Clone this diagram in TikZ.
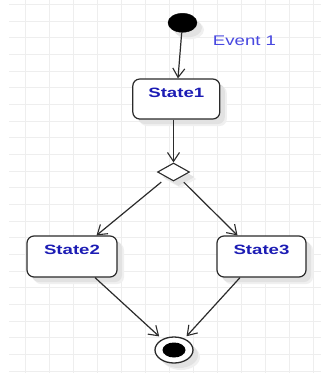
\documentclass[tikz,border=0pt]{standalone}
\usepackage{fontspec}
\setmainfont{Liberation Sans}
\usetikzlibrary{shapes.geometric,arrows.meta,shadows,calc}

\definecolor{gridgray}{HTML}{EEEEEE}
\definecolor{linegray}{HTML}{2B2B2B}
\definecolor{statetext}{HTML}{1C1CB4}
\definecolor{eventtext}{HTML}{4848E0}
\definecolor{shadowgray}{HTML}{E2E2E2}
\definecolor{shadowhaze}{HTML}{F0F0F0}

\tikzset{
  soft shadow/.style={
    general shadow={shadow xshift=7pt, shadow yshift=-7pt, fill=shadowhaze},
    general shadow={shadow xshift=5pt, shadow yshift=-5pt, fill=shadowgray}},
  gridline/.style={draw=gridgray, line width=0.9pt},
  statebox/.style={rectangle, draw=linegray, line width=1.2pt, rounded corners=7pt,
    fill=white, soft shadow, inner xsep=0pt, inner ysep=0pt, text=statetext,
    font=\bfseries\fontsize{13.5}{14}\selectfont, text height=18pt},
  initstate/.style={ellipse, fill=black, draw=black, minimum width=29pt,
    minimum height=19pt, inner sep=0pt, soft shadow},
  choice/.style={diamond, draw=linegray, line width=1.1pt, fill=white,
    minimum width=32pt, minimum height=18pt, inner sep=0pt, soft shadow},
  finalring/.style={ellipse, draw=linegray, line width=1.3pt, fill=white,
    minimum width=38pt, minimum height=26pt, inner sep=0pt, soft shadow},
  finaldot/.style={ellipse, fill=black, minimum width=23pt, minimum height=15pt, inner sep=0pt},
  arr/.style={draw=linegray, line width=1.2pt,
    -{Straight Barb[length=9pt, width=12pt, line width=1.1pt]}},
  eventlabel/.style={text=eventtext, font=\fontsize{14}{15}\selectfont, inner sep=0pt}
}

\newcommand{\wide}[1]{\scalebox{1.38}[1]{#1}}

\begin{document}
\begin{tikzpicture}[x={(1pt,0)}, y={(0,-1pt)}]
  \useasboundingbox (0,0) rectangle (321,373);
  \fill[white] (0,0) rectangle (321,373);

  % background grid
  \foreach \i in {0,...,12}
    \draw[gridline] ({25.5+24*\i},0) -- ({25.5+24*\i},373);
  \foreach \j in {0,...,22}
    \draw[gridline] (9,{4.5+16.667*\j}) -- (321,{4.5+16.667*\j});

  % states
  \node[initstate] (init) at (182.5,22.8) {};
  \node[statebox, minimum width=87pt, minimum height=40pt, text depth=22pt]
    (state1) at (176.3,99) {\wide{State1}};
  \node[choice] (choice) at (173.5,172) {};
  \node[statebox, minimum width=90pt, minimum height=41pt, text depth=23pt]
    (state2) at (72,256.5) {\wide{State2}};
  \node[statebox, minimum width=89pt, minimum height=41pt, text depth=23pt]
    (state3) at (261.5,256.5) {\wide{State3}};
  \node[finalring] (final) at (174,350) {};
  \node[finaldot] (finaldot) at (final) {};

  % event label
  \node[eventlabel] (event) at (244.5,41) {\scalebox{1.33}[1]{Event 1}};

  % transitions
  \draw[arr] (init) -- (state1);
  \draw[arr] (choice.north |- state1.south) -- (choice);
  \draw[arr, shorten <=7pt] (choice) -- ([xshift=24.5pt]state2.north);
  \draw[arr, shorten <=6pt] (choice) -- ([xshift=-24pt]state3.north);
  \draw[arr, shorten >=4pt] ([xshift=23pt]state2.south) -- (final);
  \draw[arr, shorten >=3pt] ([xshift=-21.5pt]state3.south) -- (final);
\end{tikzpicture}
\end{document}
